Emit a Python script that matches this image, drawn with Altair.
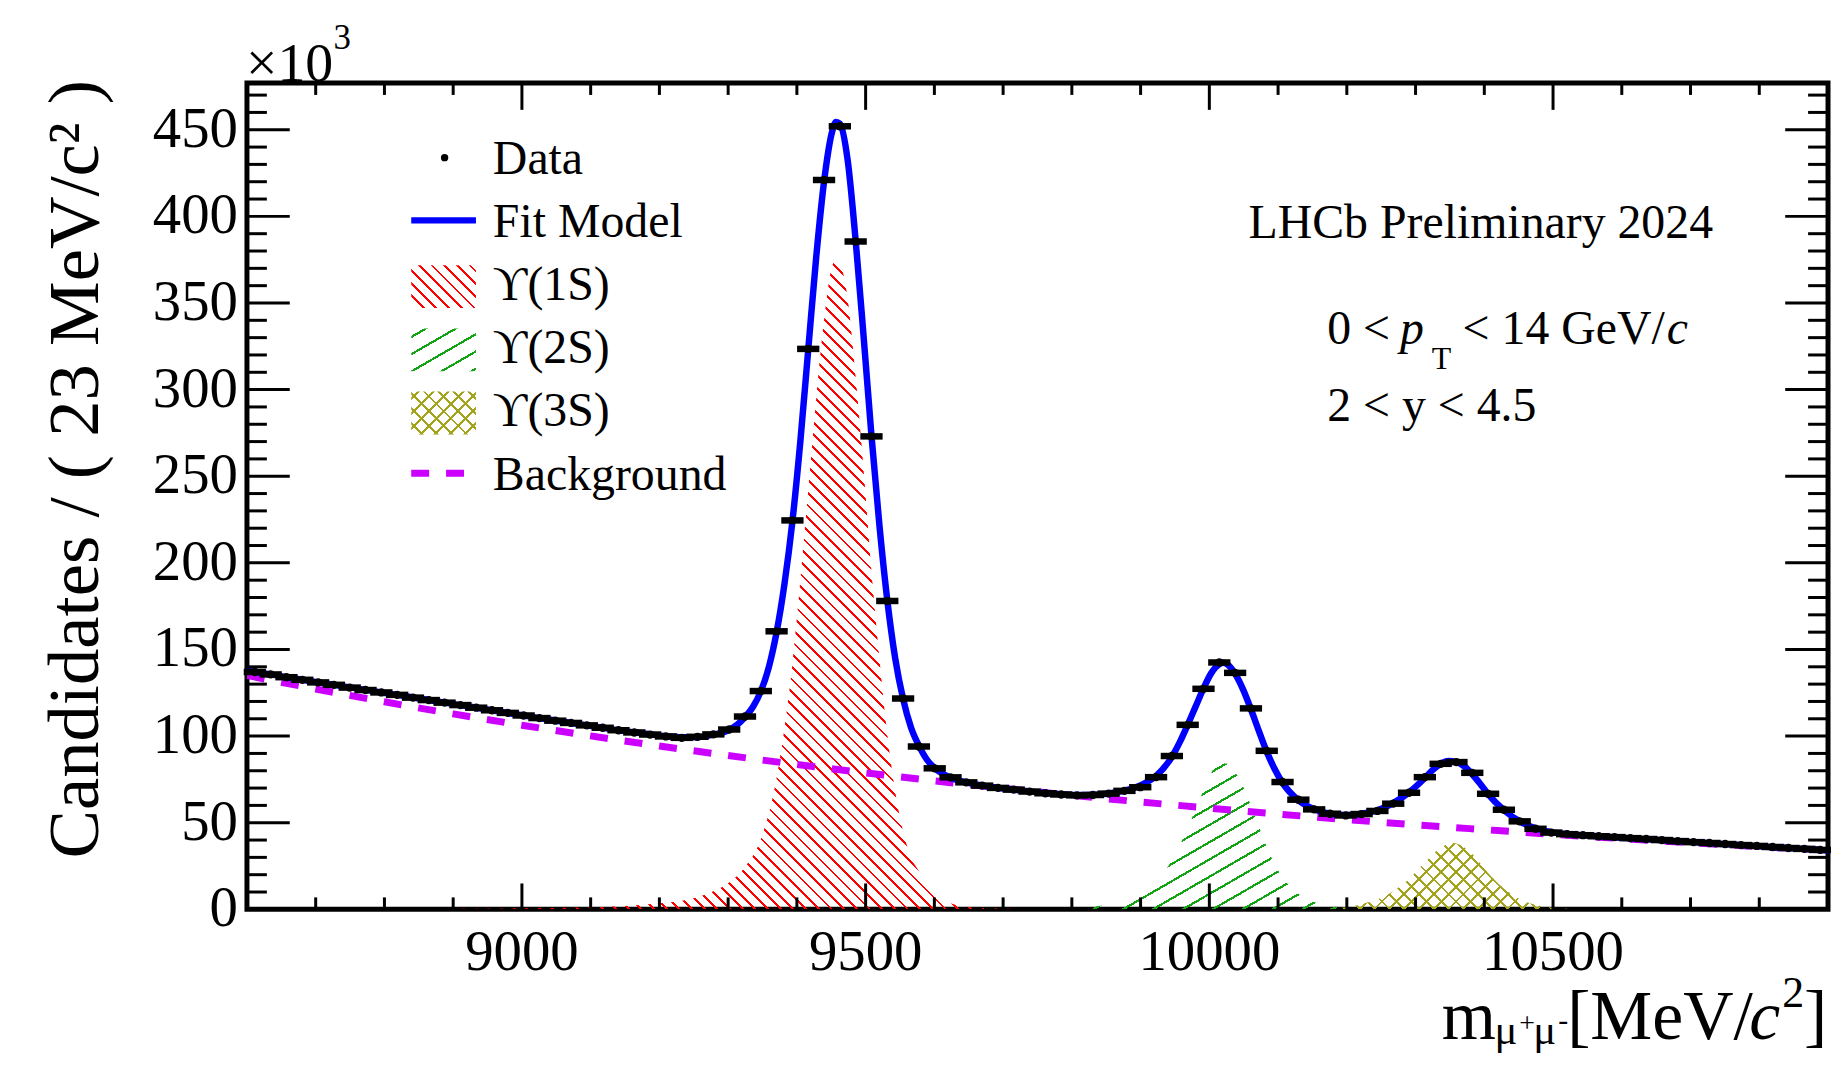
import math
import pandas as pd
import altair as alt

# ---------------- data (counts in units of 10^3) ----------------
MASS_LO, MASS_HI = 8600, 10900
BIN_W = 23
Y_TOP = 477

data_counts = [
    137.0, 135.6, 134.0, 132.5, 131.0, 129.6, 128.0, 126.6, 125.2, 123.8,
    122.2, 120.8, 119.3, 117.9, 116.4, 114.9, 113.4, 111.9, 110.4, 108.9,
    107.6, 106.2, 104.8, 103.4, 102.1, 100.9, 99.8, 99.0, 99.6, 101.0,
    103.8, 111.3, 126.0, 160.5, 224.5, 323.5, 421.0, 452.0, 385.5, 273.0,
    178.0, 121.7, 94.0, 81.4, 76.2, 73.3, 71.4, 70.1, 69.1, 68.0,
    67.0, 66.3, 65.8, 66.0, 66.8, 68.4, 70.5, 76.3, 88.5, 106.5,
    127.3, 142.5, 136.5, 116.0, 91.5, 73.5, 63.3, 57.7, 55.2, 54.2,
    55.0, 56.8, 61.0, 67.3, 76.3, 84.0, 85.0, 78.8, 66.7, 57.5,
    50.8, 46.5, 44.3, 43.4, 42.8, 42.2, 41.7, 41.1, 40.6, 40.0,
    39.4, 38.8, 38.3, 37.7, 37.1, 36.6, 36.0, 35.4, 34.9, 34.3,
]

fit_mass = [
    8600, 8611.5, 8634.5, 8657.5, 8680.5, 8703.5, 8726.5, 8749.5, 8772.5, 8795.5,
    8818.5, 8841.5, 8864.5, 8887.5, 8910.5, 8933.5, 8956.5, 8979.5, 9002.5, 9025.5,
    9048.5, 9071.5, 9094.5, 9117.5, 9140.5, 9163.5, 9186.5, 9209.5, 9232.5, 9255.5,
    9278.5, 9301.5, 9313, 9324.5, 9336, 9347.5, 9359, 9370.5, 9382, 9393.5,
    9405, 9416.5, 9428, 9439.5, 9451, 9457, 9462.5, 9474, 9485.5, 9497,
    9508.5, 9520, 9531.5, 9543, 9554.5, 9566, 9577.5, 9589, 9600.5, 9623.5,
    9646.5, 9669.5, 9692.5, 9715.5, 9738.5, 9761.5, 9784.5, 9807.5, 9830.5, 9853.5,
    9876.5, 9899.5, 9922.5, 9945.5, 9957, 9968.5, 9980, 9991.5, 10003, 10014.5,
    10020, 10026, 10037.5, 10049, 10060.5, 10072, 10083.5, 10095, 10106.5, 10129.5,
    10152.5, 10175.5, 10198.5, 10221.5, 10244.5, 10267.5, 10290.5, 10313.5, 10325, 10336.5,
    10348, 10359.5, 10371, 10382.5, 10394, 10405.5, 10428.5, 10451.5, 10474.5, 10497.5,
    10520.5, 10543.5, 10566.5, 10589.5, 10612.5, 10635.5, 10658.5, 10681.5, 10704.5, 10727.5,
    10750.5, 10773.5, 10796.5, 10819.5, 10842.5, 10865.5, 10888.5, 10900,
]
fit_counts = [
    137.8, 137.0, 135.6, 134.0, 132.5, 131.0, 129.6, 128.1, 126.7, 125.2,
    123.8, 122.3, 120.8, 119.3, 117.9, 116.4, 114.9, 113.4, 111.9, 110.4,
    109.0, 107.6, 106.2, 104.8, 103.4, 102.2, 101.0, 100.0, 99.3, 99.4,
    100.8, 103.6, 106.5, 111.0, 116.8, 125.8, 139.5, 160.0, 188.0, 224.0,
    270.0, 323.0, 376.0, 420.0, 448.5, 454.5, 453.5, 432.0, 386.0, 331.0,
    273.5, 222.0, 178.5, 145.0, 121.5, 105.0, 94.5, 86.5, 81.5, 76.0,
    73.3, 71.5, 70.2, 69.1, 68.1, 67.2, 66.5, 66.0, 66.1, 66.9,
    68.5, 71.5, 77.0, 88.0, 96.5, 106.5, 117.0, 127.5, 136.5, 141.5,
    142.3, 141.5, 136.0, 127.0, 115.5, 103.0, 91.0, 81.0, 73.0, 63.0,
    57.8, 55.2, 54.4, 55.2, 57.2, 61.3, 67.5, 75.8, 80.5, 84.0,
    85.6, 85.0, 82.5, 78.0, 72.5, 66.5, 57.3, 50.8, 46.8, 44.6,
    43.5, 42.8, 42.2, 41.6, 41.0, 40.5, 39.9, 39.3, 38.8, 38.2,
    37.6, 37.1, 36.5, 35.9, 35.4, 34.9, 34.3, 34.0,
]

bkg_mass = [8600, 8700, 8800, 8900, 9000, 9100, 9200, 9300, 9400, 9500, 9600, 9700,
            9800, 9900, 10000, 10100, 10200, 10300, 10400, 10500, 10600, 10700, 10800, 10900]
bkg_counts = [135.0, 127.2, 119.8, 112.8, 106.3, 100.1, 94.3, 88.8, 83.6, 78.8, 74.2, 69.9,
              65.8, 62.0, 58.4, 55.0, 51.8, 48.8, 46.0, 43.3, 40.8, 38.4, 36.2, 34.1]

ups1s_mass = [8900, 9000, 9100, 9150, 9200, 9232.5, 9255.5, 9278.5, 9301.5, 9324.5,
              9347.5, 9370.5, 9393.5, 9416.5, 9439.5, 9451, 9457, 9462.5, 9474, 9485.5,
              9497, 9508.5, 9520, 9531.5, 9543, 9554.5, 9566, 9577.5, 9600.5, 9623.5,
              9646.5, 9692.5, 9750]
ups1s_counts = [0.3, 0.6, 1.2, 2.0, 3.5, 5.0, 7.0, 10.5, 15.5, 24.5,
                40.5, 76.0, 141.5, 241.5, 340.0, 371.0, 375.0, 373.0, 352.0, 307.0,
                254.0, 195.0, 145.0, 101.0, 68.0, 45.0, 30.0, 22.0, 9.0, 3.5,
                1.5, 0.5, 0.0]

ups2s_mass = [9830.5, 9853.5, 9876.5, 9899.5, 9922.5, 9945.5, 9968.5, 9991.5, 10003, 10014.5,
              10026, 10037.5, 10049, 10060.5, 10072, 10083.5, 10106.5, 10129.5, 10152.5, 10175.5,
              10198.5, 10221.5, 10250]
ups2s_counts = [1.5, 3.0, 5.5, 8.5, 15.3, 28.3, 47.0, 68.7, 79.0, 84.5,
                84.0, 79.3, 71.0, 59.8, 48.0, 36.0, 18.5, 9.0, 4.3, 2.0,
                1.0, 0.4, 0.0]

ups3s_mass = [10175.5, 10198.5, 10221.5, 10244.5, 10267.5, 10290.5, 10313.5, 10336.5, 10352,
              10359.5, 10382.5, 10405.5, 10428.5, 10451.5, 10474.5, 10497.5, 10520.5]
ups3s_counts = [0.5, 1.2, 3.0, 5.8, 10.5, 17.5, 27.0, 35.5, 38.5,
                38.0, 32.0, 21.0, 12.0, 6.0, 2.6, 1.0, 0.3]

x_major = [9000, 9500, 10000, 10500]
x_labels = ["9000", "9500", "10000", "10500"]
y_major = [0, 50, 100, 150, 200, 250, 300, 350, 400, 450]
y_labels = ["0", "50", "100", "150", "200", "250", "300", "350", "400", "450"]
legend_labels = ["Data", "Fit Model", "\u03d2(1S)", "\u03d2(2S)", "\u03d2(3S)", "Background"]

# ---------------- layout / style ----------------
W, H = 1588, 830
SX = W / (MASS_HI - MASS_LO)
SY = H / Y_TOP
SERIF = "Liberation Serif"
RED, GREEN, OLIVE = "#ff0000", "#12a412", "#a3a31c"
BLUE, MAGENTA = "#0000ff", "#cc00ff"

x_minor = [v for v in range(8700, 10900, 100) if v not in x_major]
y_minor = [v for v in range(10, 480, 10) if v % 50]

XS = alt.Scale(domain=[MASS_LO, MASS_HI], nice=False, zero=False)
YS = alt.Scale(domain=[0, Y_TOP], nice=False, zero=False)


def hatch(color, angle, spacing, lw, w, h):
    th = math.radians(angle)
    s, c = math.sin(th), math.cos(th)
    span = w * abs(s) + h * abs(c)
    k = span / ((w * s) ** 2 + (h * c) ** 2)
    u0 = 0.0 if s >= 0 else 1.0
    v0 = 0.0 if c >= 0 else 1.0
    clear = "rgba(255,255,255,0)"
    stops = [alt.GradientStop(offset=0, color=clear)]
    pos = spacing / 2.0
    while pos + lw / 2.0 < span:
        o1 = round(max(0.0, (pos - lw / 2.0) / span), 5)
        o2 = round(min(1.0, (pos + lw / 2.0) / span), 5)
        stops += [alt.GradientStop(offset=o1, color=clear), alt.GradientStop(offset=o1, color=color),
                  alt.GradientStop(offset=o2, color=color), alt.GradientStop(offset=o2, color=clear)]
        pos += spacing
    stops.append(alt.GradientStop(offset=1, color=clear))
    return alt.LinearGradient(gradient="linear", stops=stops, x1=u0, y1=v0,
                              x2=u0 + k * w * s, y2=v0 + k * h * c)


def area_box(mass, counts):
    return (max(mass) - min(mass)) * SX, max(counts) * SY


HATCH_1S = dict(color=RED, angle=-45, spacing=9, lw=2.0)
HATCH_2S = dict(color=GREEN, angle=30, spacing=15, lw=2.2)
HATCH_3S_A = dict(color=OLIVE, angle=45, spacing=10.5, lw=2.0)
HATCH_3S_B = dict(color=OLIVE, angle=-45, spacing=10.5, lw=2.0)


def comp_area(mass, counts, hs):
    w, h = area_box(mass, counts)
    df = pd.DataFrame({"m": mass, "n": counts})
    return alt.Chart(df).mark_area(fill=hatch(w=w, h=h, **hs), interpolate="monotone", clip=True).encode(
        x=alt.X("m:Q", scale=XS, axis=None), y=alt.Y("n:Q", scale=YS, axis=None))


def txt(text, x, y, size, italic=False, angle=0, align="left", baseline="alphabetic"):
    kw = dict(font=SERIF, fontSize=size, color="black", align=align, baseline=baseline, angle=angle)
    if italic:
        kw["fontStyle"] = "italic"
    return alt.Chart(pd.DataFrame({"t": [text]})).mark_text(**kw).encode(
        text="t:N", x=alt.value(x), y=alt.value(y))


layers = []

# signal components (hatched)
layers.append(comp_area(ups1s_mass, ups1s_counts, HATCH_1S))
layers.append(comp_area(ups2s_mass, ups2s_counts, HATCH_2S))
layers.append(comp_area(ups3s_mass, ups3s_counts, HATCH_3S_A))
layers.append(comp_area(ups3s_mass, ups3s_counts, HATCH_3S_B))

# background
layers.append(alt.Chart(pd.DataFrame({"m": bkg_mass, "n": bkg_counts})).mark_line(
    color=MAGENTA, strokeWidth=7, strokeDash=[18, 17], interpolate="monotone", clip=True).encode(
    x=alt.X("m:Q", scale=XS, axis=None), y=alt.Y("n:Q", scale=YS, axis=None)))

# fit model
layers.append(alt.Chart(pd.DataFrame({"m": fit_mass, "n": fit_counts})).mark_line(
    color=BLUE, strokeWidth=6.5, interpolate="monotone", clip=True).encode(
    x=alt.X("m:Q", scale=XS, axis=None), y=alt.Y("n:Q", scale=YS, axis=None)))

# data points (horizontal bin bars + markers)
centers = [MASS_LO + BIN_W * (i + 0.5) for i in range(len(data_counts))]
ddf = pd.DataFrame({"m": centers, "lo": [c - BIN_W / 2 for c in centers],
                    "hi": [c + BIN_W / 2 for c in centers], "n": data_counts})
layers.append(alt.Chart(ddf).mark_rule(color="black", strokeWidth=6.5, strokeCap="square").encode(
    x=alt.X("lo:Q", scale=XS, axis=None), x2="hi:Q", y=alt.Y("n:Q", scale=YS, axis=None)))
layers.append(alt.Chart(ddf).mark_point(filled=True, color="black", size=70, opacity=1).encode(
    x=alt.X("m:Q", scale=XS, axis=None), y=alt.Y("n:Q", scale=YS, axis=None)))


# inward ticks on all four sides
def yticks(vals, length, right):
    x0 = W if right else 0
    x1 = W - length if right else length
    return alt.Chart(pd.DataFrame({"v": vals})).mark_rule(color="black", strokeWidth=3).encode(
        y=alt.Y("v:Q", scale=YS, axis=None), x=alt.value(x0), x2=alt.value(x1))


def xticks(vals, length, top):
    y0 = 0 if top else H
    y1 = length if top else H - length
    return alt.Chart(pd.DataFrame({"v": vals})).mark_rule(color="black", strokeWidth=3).encode(
        x=alt.X("v:Q", scale=XS, axis=None), y=alt.value(y0), y2=alt.value(y1))


layers += [yticks(y_major, 43, False), yticks(y_minor, 20, False),
           yticks(y_major, 43, True), yticks(y_minor, 20, True),
           xticks(x_major, 26, False), xticks(x_minor, 12, False),
           xticks(x_major, 27, True), xticks(x_minor, 12, True)]

# tick labels placed through the scales
layers.append(alt.Chart(pd.DataFrame({"v": y_major, "t": y_labels})).mark_text(
    font=SERIF, fontSize=57, color="black", align="right", baseline="middle").encode(
    y=alt.Y("v:Q", scale=YS, axis=None), x=alt.value(-9), text="t:N"))
layers.append(alt.Chart(pd.DataFrame({"v": x_major, "t": x_labels})).mark_text(
    font=SERIF, fontSize=57, color="black", align="center", baseline="alphabetic").encode(
    x=alt.X("v:Q", scale=XS, axis=None), y=alt.value(891), text="t:N"))

# axis titles and multiplier
layers.append(txt("Candidates / ( 23 MeV/c\u00b2 )", -172, 388, 73, angle=270, align="center",
                  baseline="middle"))
layers.append(txt("\u00d710", -1, -2, 56))
layers.append(txt("3", 87, -34, 35))
layers.append(txt("m", 1200, 960, 70))
layers.append(txt("\u03bc", 1253, 965, 43))
layers.append(txt("+", 1278, 953, 28))
layers.append(txt("\u03bc", 1292, 965, 43))
layers.append(txt("-", 1317, 951, 30))
layers.append(txt("[MeV/", 1326, 960, 70))
layers.append(txt("c", 1509, 960, 70, italic=True))
layers.append(txt("2", 1542, 928, 44))
layers.append(txt("]", 1564, 960, 70))

# annotations
layers.append(txt("LHCb Preliminary 2024", 1006, 156, 48))
layers.append(txt("0 <", 1085, 262, 48))
layers.append(txt("p", 1158, 262, 48, italic=True))
layers.append(txt("T", 1190, 287, 32))
layers.append(txt("< 14 GeV/", 1221, 262, 48))
layers.append(txt("c", 1426, 262, 48, italic=True))
layers.append(txt("2 < y < 4.5", 1085, 340, 48))

# hand-drawn legend
LEG_X_SYM0, LEG_X_SYM1, LEG_X_TXT = 165, 230, 247
LEG_Y0, LEG_DY = 91, 63.5
dummy = pd.DataFrame({"d": [0]})
for i, lab in enumerate(legend_labels):
    base_y = LEG_Y0 + i * LEG_DY
    layers.append(txt(lab, LEG_X_TXT, base_y, 48))
    if lab == "Data":
        layers.append(alt.Chart(dummy).mark_point(filled=True, color="black", size=55, opacity=1).encode(
            x=alt.value((LEG_X_SYM0 + LEG_X_SYM1) / 2 + 1), y=alt.value(base_y - 16)))
    elif lab == "Fit Model":
        layers.append(alt.Chart(dummy).mark_rule(color=BLUE, strokeWidth=6.5).encode(
            x=alt.value(LEG_X_SYM0), x2=alt.value(LEG_X_SYM1), y=alt.value(base_y - 16.5)))
    elif lab == "Background":
        layers.append(alt.Chart(dummy).mark_rule(color=MAGENTA, strokeWidth=7, strokeDash=[18, 17]).encode(
            x=alt.value(LEG_X_SYM0), x2=alt.value(LEG_X_SYM1), y=alt.value(base_y - 16.5)))
    else:
        hs_list = {"\u03d2(1S)": [HATCH_1S], "\u03d2(2S)": [HATCH_2S],
                   "\u03d2(3S)": [HATCH_3S_A, HATCH_3S_B]}[lab]
        for hs in hs_list:
            bw, bh = LEG_X_SYM1 - LEG_X_SYM0, 43
            layers.append(alt.Chart(dummy).mark_rect(fill=hatch(w=bw, h=bh, **hs)).encode(
                x=alt.value(LEG_X_SYM0), x2=alt.value(LEG_X_SYM1),
                y=alt.value(base_y - 35), y2=alt.value(base_y + 8)))

chart = alt.layer(*layers).properties(
    width=W, height=H,
    padding={"left": 240, "top": 73, "right": 3, "bottom": 146},
    autosize=alt.AutoSizeParams(type="none"),
    background="white",
).configure_view(stroke="black", strokeWidth=5)

chart.save("out.html", embed_options={"renderer": "svg", "actions": False})
